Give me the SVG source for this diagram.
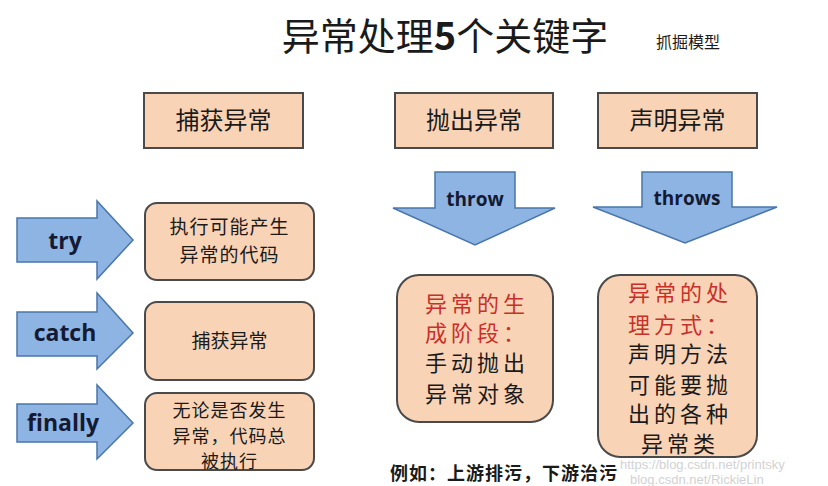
<svg xmlns="http://www.w3.org/2000/svg" width="828" height="486" viewBox="0 0 828 486">
<style>
.cjk{font-family:"Noto Sans CJK SC","Noto Sans",sans-serif;fill:#1a1a1a}
.lat{font-family:"Open Sans","Noto Sans",sans-serif;font-weight:bold;fill:#141a33}
.hdr{fill:#F9D3B6;stroke:#4a4a4a;stroke-width:2}
.box{fill:#F9D3B6;stroke:#4a4a4a;stroke-width:2}
.arr{fill:#8DB4E2;stroke:#4a76ac;stroke-width:1.5}
.red{fill:#c8302a}
.wm{font-family:"Liberation Sans",sans-serif;fill:#c8c8c8;font-size:13px}
</style>
<rect width="828" height="486" fill="#ffffff"/>
<g id="title">
<text class="cjk" x="445" y="50" font-size="38" text-anchor="middle">异常处理<tspan font-weight="bold">5</tspan>个关键字</text>
<text class="cjk" x="688" y="48" font-size="16" text-anchor="middle">抓掘模型</text>
</g>
<g id="h-catch"><rect class="hdr" x="144" y="93" width="159" height="55"/><text class="cjk" x="223.5" y="129" font-size="24" text-anchor="middle">捕获异常</text></g>
<g id="h-throw"><rect class="hdr" x="395" y="93" width="158" height="55"/><text class="cjk" x="474" y="129" font-size="24" text-anchor="middle">抛出异常</text></g>
<g id="h-decl"><rect class="hdr" x="598" y="93" width="159" height="55"/><text class="cjk" x="677.5" y="129" font-size="24" text-anchor="middle">声明异常</text></g>
<g id="connectors">
<polygon class="arr" points="17,218 97,218 97,201 133,240 97,279 97,262 17,262"/>
<polygon class="arr" points="17,312 97,312 97,293 133,333 97,369 97,356 17,356"/>
<polygon class="arr" points="17,404 97,404 97,385 133,423 97,459 97,442 17,442"/>
<polygon class="arr" points="435,172 515,172 515,208 555,208 475,245 393,208 435,208"/>
<polygon class="arr" points="642,172 732,172 732,207 777,207 685,243 593,207 642,207"/>
<text class="lat" x="65" y="249" font-size="23" text-anchor="middle">try</text>
<text class="lat" x="65" y="341" font-size="23" text-anchor="middle">catch</text>
<text class="lat" x="63" y="431" font-size="23" text-anchor="middle">finally</text>
<text class="lat" x="475" y="206" font-size="19" text-anchor="middle">throw</text>
<text class="lat" x="687" y="205" font-size="19" text-anchor="middle">throws</text>
</g>
<g id="b-try"><rect class="box" x="145" y="203" width="169" height="77" rx="12"/>
<text class="cjk" x="229.5" y="234" font-size="19" text-anchor="middle" letter-spacing="1">执行可能产生</text>
<text class="cjk" x="229.5" y="262" font-size="19" text-anchor="middle" letter-spacing="1">异常的代码</text></g>
<g id="b-catch"><rect class="box" x="145" y="302" width="169" height="78" rx="12"/>
<text class="cjk" x="229.5" y="348" font-size="19" text-anchor="middle">捕获异常</text></g>
<g id="b-finally"><rect class="box" x="145" y="393" width="169" height="77" rx="12"/>
<text class="cjk" x="229.5" y="417" font-size="18" text-anchor="middle" letter-spacing="1">无论是否发生</text>
<text class="cjk" x="229.5" y="443" font-size="18" text-anchor="middle" letter-spacing="1">异常，代码总</text>
<text class="cjk" x="229.5" y="468" font-size="18" text-anchor="middle" letter-spacing="1">被执行</text></g>
<g id="b-throw"><rect class="box" x="397" y="275" width="156" height="147" rx="22"/>
<g font-size="22" text-anchor="middle" letter-spacing="4">
<text class="cjk red" x="477" y="312">异常的生</text>
<text class="cjk red" x="477" y="341">成阶段：</text>
<text class="cjk" x="477" y="371">手动抛出</text>
<text class="cjk" x="477" y="402">异常对象</text></g></g>
<g id="b-throws"><rect class="box" x="598" y="275" width="159" height="182" rx="22"/>
<g font-size="22" text-anchor="middle" letter-spacing="4">
<text class="cjk red" x="680" y="301">异常的处</text>
<text class="cjk red" x="680" y="333">理方式：</text>
<text class="cjk" x="680" y="362">声明方法</text>
<text class="cjk" x="680" y="393">可能要抛</text>
<text class="cjk" x="680" y="422">出的各种</text>
<text class="cjk" x="680" y="452">异常类</text></g></g>
<g id="note">
<text class="wm" x="630" y="484" opacity="0.8">blog.csdn.net/RickieLin</text>
<text class="wm" x="620" y="469" opacity="0.8">https://blog.csdn.net/printsky</text>
<text class="cjk" x="390" y="480" font-size="18" font-weight="bold" letter-spacing="1">例如：上游排污，下游治污</text>
</g>
</svg>
